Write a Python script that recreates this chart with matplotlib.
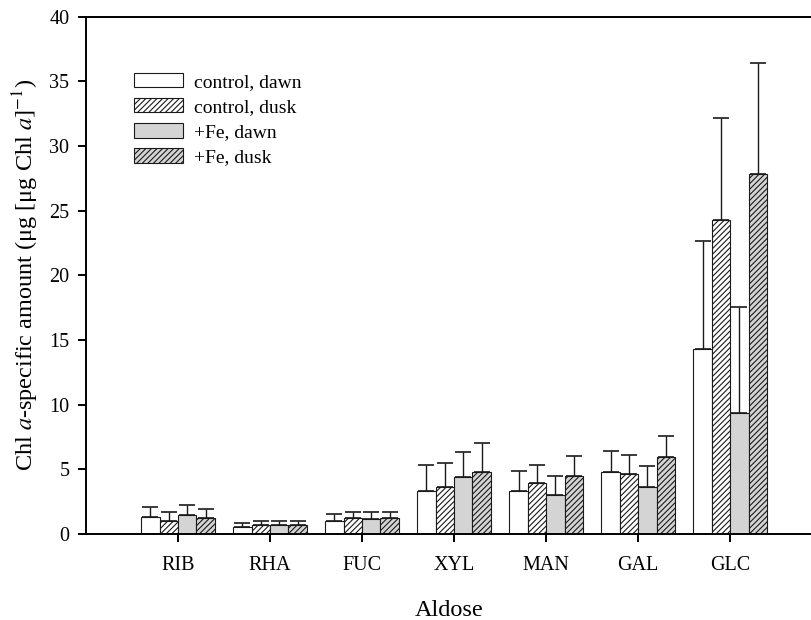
import numpy as np
import matplotlib
matplotlib.use('Agg')
import matplotlib.pyplot as plt

plt.rcParams['font.family'] = ['Liberation Serif', 'DejaVu Serif']
plt.rcParams['mathtext.fontset'] = 'stix'
plt.rcParams['hatch.linewidth'] = 0.8

# aldoses on the x axis
aldoses = ['RIB', 'RHA', 'FUC', 'XYL', 'MAN', 'GAL', 'GLC']
series = ['control, dawn', 'control, dusk', '+Fe, dawn', '+Fe, dusk']

# mean values (ug [ug Chl a]^-1)
ctl_dawn = [1.32, 0.54, 1.03, 3.33, 3.30, 4.80, 14.27]
ctl_dusk = [0.96, 0.65, 1.21, 3.64, 3.90, 4.62, 24.27]
fe_dawn = [1.47, 0.65, 1.11, 4.41, 2.97, 3.61, 9.31]
fe_dusk = [1.21, 0.70, 1.21, 4.80, 4.46, 5.96, 27.81]

# upper error (sd)
ctl_dawn_err = [0.77, 0.31, 0.52, 1.98, 1.55, 1.60, 8.35]
ctl_dusk_err = [0.74, 0.33, 0.44, 1.81, 1.39, 1.47, 7.92]
fe_dawn_err = [0.75, 0.33, 0.54, 1.93, 1.52, 1.65, 8.23]
fe_dusk_err = [0.72, 0.33, 0.44, 2.19, 1.55, 1.60, 8.61]

means = [ctl_dawn, ctl_dusk, fe_dawn, fe_dusk]
errs = [ctl_dawn_err, ctl_dusk_err, fe_dawn_err, fe_dusk_err]
colors = ['white', 'white', '#d4d4d4', '#d4d4d4']
hatches = [None, '//////', None, '//////']

fig = plt.figure(figsize=(8.12, 6.2), dpi=100)
ax = fig.add_axes([0.106, 0.139, 0.894, 0.834])

x = np.arange(1, len(aldoses) + 1)
w = 0.2
for i in range(4):
    pos = x + (i - 1.5) * w
    ax.bar(pos, means[i], width=w, color=colors[i], edgecolor='#1a1a1a',
           linewidth=0.8, hatch=hatches[i], label=series[i], zorder=2)
    ax.errorbar(pos, means[i], yerr=[np.zeros(len(aldoses)), errs[i]],
                fmt='none', ecolor='#1a1a1a', elinewidth=1.0, capsize=5.5,
                capthick=1.2, zorder=1)

ax.set_xlim(0, 7.89)
ax.set_ylim(0, 40)
ax.set_yticks(np.arange(0, 41, 5))
ax.set_xticks(x)
ax.set_xticklabels(aldoses)
ax.tick_params(direction='out', length=6, width=1.4, labelsize=14.5)
ax.tick_params(axis='x', pad=10)
ax.tick_params(axis='y', pad=6)
ax.spines['right'].set_visible(False)
for s in ['left', 'bottom', 'top']:
    ax.spines[s].set_linewidth(1.4)

ax.set_xlabel('Aldose', fontsize=17.5, labelpad=18)
ax.set_ylabel(r'Chl $a$-specific amount (μg [μg Chl $a$]$^{-1}$)',
              fontsize=17.5, labelpad=6)

ax.legend(loc='upper left', bbox_to_anchor=(0.066, 0.892), frameon=False,
          fontsize=14, borderpad=0, borderaxespad=0, handlelength=2.5,
          handleheight=0.77, handletextpad=0.6, labelspacing=0.37)

fig.savefig('out.png', dpi=100)
